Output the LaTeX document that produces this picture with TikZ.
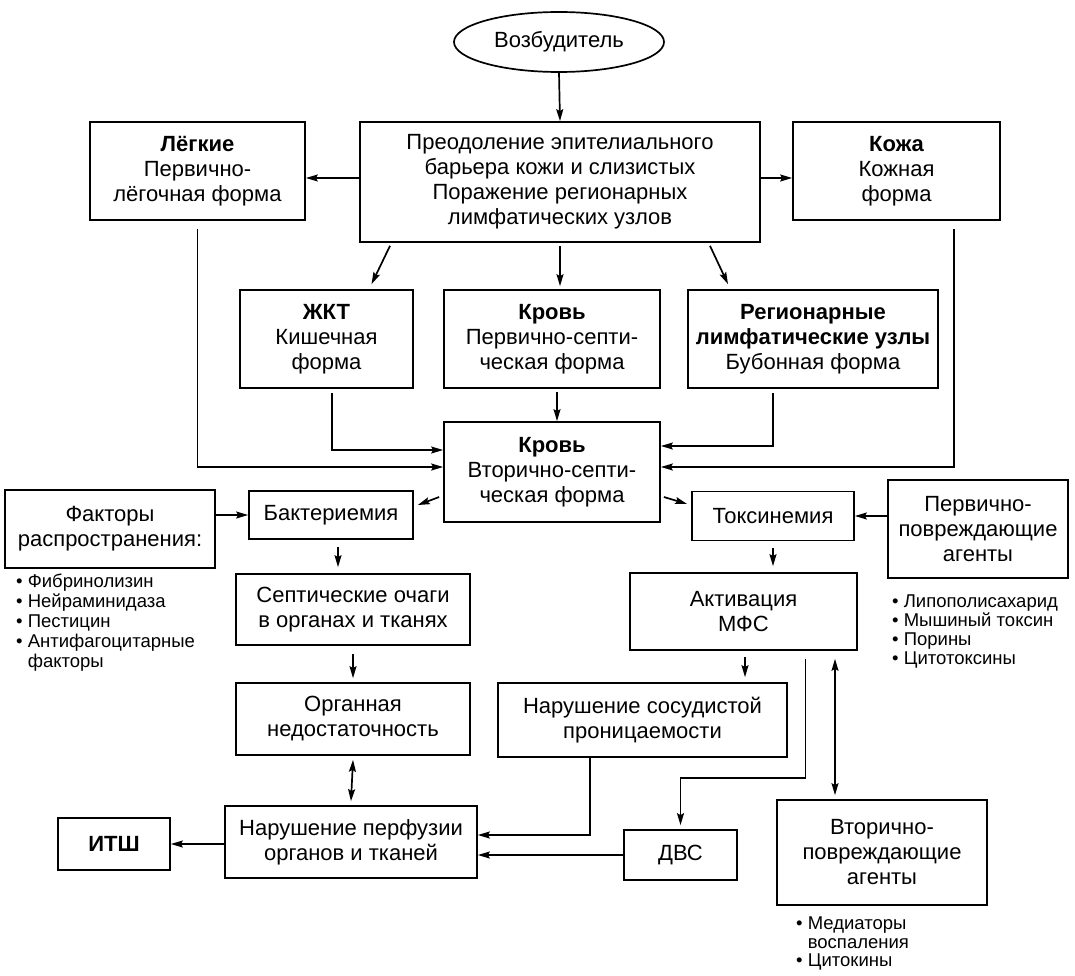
\documentclass[tikz,border=0pt]{standalone}
\usepackage{fontspec}
\setmainfont{Liberation Sans}
\usetikzlibrary{shapes.geometric,arrows.meta,calc}
\begin{document}
\begin{tikzpicture}[x=1pt,y=-1pt,
  bx/.style={draw,line width=1.7pt,align=center,inner sep=0pt,font=\fontsize{22}{25}\selectfont},
  wh/.style 2 args={minimum width=#1pt,minimum height=#2pt},
  arr/.style={line width=1.7pt,-{Stealth[length=12pt,width=7pt,inset=2pt]}},
  darr/.style={line width=1.7pt,{Stealth[length=12pt,width=7pt,inset=2pt]}-{Stealth[length=12pt,width=7pt,inset=2pt]}},
  lst/.style={align=left,inner sep=0pt,anchor=north west}]
\useasboundingbox (0,0) rectangle (1075,976);

\node[bx,ellipse,wh={210}{60}] (vozb) at (559,42) {Возбудитель};
\node[bx,wh={400}{120}] (main) at (560,182) {Преодоление эпителиального\\барьера кожи и слизистых\\Поражение регионарных\\лимфатических узлов};
\node[bx,wh={215}{98}] (lungs) at (197.5,171) {\bfseries Лёгкие\\Первично-\\лёгочная форма};
\node[bx,wh={207}{98}] (skin) at (896.5,171) {\bfseries Кожа\\Кожная\\форма};
\node[bx,wh={173}{98}] (zkt) at (326.5,339) {\bfseries ЖКТ\\Кишечная\\форма};
\node[bx,wh={216}{98}] (blood1) at (552,339) {\bfseries Кровь\\Первично-септи-\\ческая форма};
\node[bx,wh={250}{98}] (lymph) at (813,339) {\bfseries Регионарные\\\bfseries лимфатические узлы\\Бубонная форма};
\node[bx,wh={216}{100}] (blood2) at (552,472) {\bfseries Кровь\\Вторично-септи-\\ческая форма};
\node[bx,wh={164}{48}] (bact) at (331,515) {Бактериемия};
\node[bx,wh={162}{49}] (tox) at (773,516) {Токсинемия};
\node[bx,wh={210}{78}] (factors) at (110,529) {Факторы\\распространения:};
\node[bx,wh={180}{98}] (prim) at (978,529) {Первично-\\повреждающие\\агенты};
\node[bx,wh={234}{71}] (septic) at (353,609.5) {Септические очаги\\в органах и тканях};
\node[bx,wh={227}{77}] (activ) at (743.5,611.5) {Активация\\МФС};
\node[bx,wh={234}{72}] (organ) at (353,719) {Органная\\недостаточность};
\node[bx,wh={289}{74}] (vasc) at (642.5,720) {Нарушение сосудистой\\проницаемости};
\node[bx,wh={252}{72}] (perf) at (351,842) {Нарушение перфузии\\органов и тканей};
\node[bx,wh={112}{52}] (itsh) at (114,844) {\bfseries ИТШ};
\node[bx,wh={113}{50}] (dvs) at (680.5,855) {ДВС};
\node[bx,wh={210}{105}] (sec) at (882,852.5) {Вторично-\\повреждающие\\агенты};

\node[lst,font=\fontsize{18.5}{20}\selectfont] (flist) at (16,574) {• Фибринолизин\\• Нейраминидаза\\• Пестицин\\• Антифагоцитарные\\\phantom{• }факторы};
\node[lst,font=\fontsize{18.5}{19}\selectfont] (plist) at (892,595) {• Липополисахарид\\• Мышиный токсин\\• Порины\\• Цитотоксины};
\node[lst,font=\fontsize{18.5}{18.5}\selectfont] (slist) at (796,917) {• Медиаторы\\\phantom{• }воспаления\\• Цитокины};

% connectors
\draw[arr] (vozb.south) -- (main.north);
\draw[arr] ([yshift=4pt]main.west) -- ([yshift=4pt]main.west -| lungs.east);
\draw[arr] ([yshift=4pt]main.east) -- ([yshift=4pt]main.east -| skin.west);
\draw[arr] ([xshift=-170pt,yshift=-3pt]main.south) -- ([xshift=45pt,yshift=5pt]zkt.north);
\draw[arr] ([yshift=-3pt]main.south) -- ([yshift=3pt]main.south |- blood1.north);
\draw[arr] ([xshift=150pt,yshift=-3pt]main.south) -- ([xshift=-85pt,yshift=5pt]lymph.north);
\draw[arr] ([xshift=5pt,yshift=-3pt]blood1.south) -- ([xshift=5pt]blood2.north);
\draw[arr] ([xshift=5.5pt,yshift=-4pt]zkt.south) |- ([yshift=22pt]blood2.west);
\draw[arr] ([xshift=-40pt,yshift=-4pt]lymph.south) |- ([yshift=26pt]blood2.east);
\draw[arr] ([yshift=-8pt]lungs.south) |- ([yshift=5pt]blood2.west);
\draw[arr] ([xshift=57.5pt,yshift=-8pt]skin.south) |- ([yshift=5pt]blood2.east);
\draw[arr] ([xshift=-4pt,yshift=-25pt]blood2.west) -- ([xshift=4pt,yshift=10pt]bact.east);
\draw[arr] ([xshift=3pt,yshift=-25pt]blood2.east) -- ([xshift=-4pt,yshift=12pt]tox.west);
\draw[arr] (factors.east |- bact.west) -- (bact.west);
\draw[arr] (prim.west |- tox.east) -- (tox.east);
\draw[arr] ([xshift=7pt,yshift=-7pt]bact.south) -- ([xshift=7pt,yshift=6pt]bact.south |- septic.north);
\draw[arr] ([yshift=-7pt]tox.south) -- ([yshift=6pt]tox.south |- activ.north);
\draw[arr] ([yshift=-8pt]septic.south) -- ([yshift=4pt]organ.north);
\draw[arr] ([xshift=1.5pt,yshift=-6pt]activ.south) -- ([xshift=1.5pt,yshift=5pt]activ.south |- vasc.north);
\draw[arr] ([xshift=62pt,yshift=-8pt]activ.south) -- ++(0pt,-119pt) -| ([yshift=4pt]dvs.north);
\draw[darr] ([xshift=91.5pt,yshift=-8pt]activ.south) -- ([xshift=-47pt,yshift=4pt]sec.north);
\draw[arr] ([xshift=-52.5pt]vasc.south) |- ([yshift=7pt]perf.east);
\draw[arr] (dvs.west) -- (dvs.west -| perf.east);
\draw[darr] ([yshift=-4pt]organ.south) -- ([yshift=4pt]perf.north);
\draw[arr] (perf.west |- itsh.east) -- (itsh.east);
\end{tikzpicture}
\end{document}
